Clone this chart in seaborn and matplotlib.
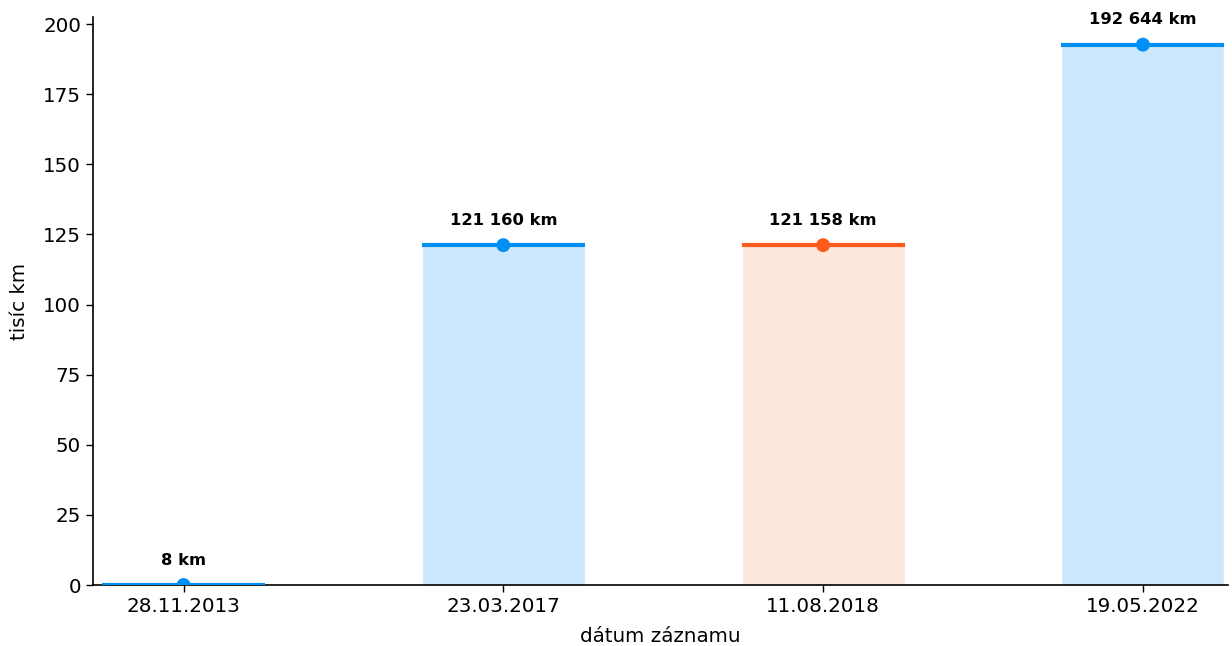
import matplotlib
matplotlib.use("Agg")
import matplotlib.pyplot as plt
import seaborn as sns
import pandas as pd

# Odometer readings (thousand km) at each record date
dates = ["28.11.2013", "23.03.2017", "11.08.2018", "19.05.2022"]
km_thousands = [0.008, 121.160, 121.158, 192.644]
value_labels = ["8 km", "121 160 km", "121 158 km", "192 644 km"]
suspicious = [False, False, True, False]

BLUE = "#008ff5"
BLUE_LIGHT = "#cce8fc"
ORANGE = "#ff5b1a"
ORANGE_LIGHT = "#fde7dd"

df = pd.DataFrame({"date": dates, "km": km_thousands, "flag": suspicious})
line_colors = [ORANGE if f else BLUE for f in suspicious]
fill_colors = [ORANGE_LIGHT if f else BLUE_LIGHT for f in suspicious]

sns.set_style("ticks")
plt.rcParams["font.family"] = ["DejaVu Sans"]
plt.rcParams["text.color"] = "black"
plt.rcParams["axes.labelcolor"] = "black"
plt.rcParams["xtick.color"] = "black"
plt.rcParams["ytick.color"] = "black"

fig = plt.figure(figsize=(12.32, 6.46), dpi=100)
ax = fig.add_axes([0.0755, 0.0944, 0.9215, 0.8793])

sns.barplot(data=df, x="date", y="km", hue="date", palette=fill_colors,
            width=0.51, legend=False, ax=ax, saturation=1)

for i, (v, c) in enumerate(zip(km_thousands, line_colors)):
    ax.hlines(v, i - 0.255, i + 0.255, colors=c, linewidth=3, zorder=3)

sns.scatterplot(x=range(len(dates)), y=km_thousands, hue=dates,
                palette=line_colors, s=100, edgecolor="none",
                legend=False, ax=ax, zorder=4)

for i, (v, lab) in enumerate(zip(km_thousands, value_labels)):
    ax.annotate(lab, (i, v), xytext=(0, 12.5), textcoords="offset points",
                ha="center", va="bottom", fontsize=11.8, fontweight="bold")

ax.set_xlim(-0.283, 3.267)
ax.set_ylim(0, 202.5)
ax.set_yticks([0, 25, 50, 75, 100, 125, 150, 175, 200])
ax.set_xlabel("dátum záznamu", fontsize=14.3, labelpad=8)
ax.set_ylabel("tisíc km", fontsize=14.3, labelpad=10)
ax.tick_params(labelsize=14.3, width=1, length=5, color="black")
for s in ["left", "bottom"]:
    ax.spines[s].set_color("black")
    ax.spines[s].set_linewidth(1.2)
sns.despine(ax=ax)

fig.savefig("out.png", dpi=100)
